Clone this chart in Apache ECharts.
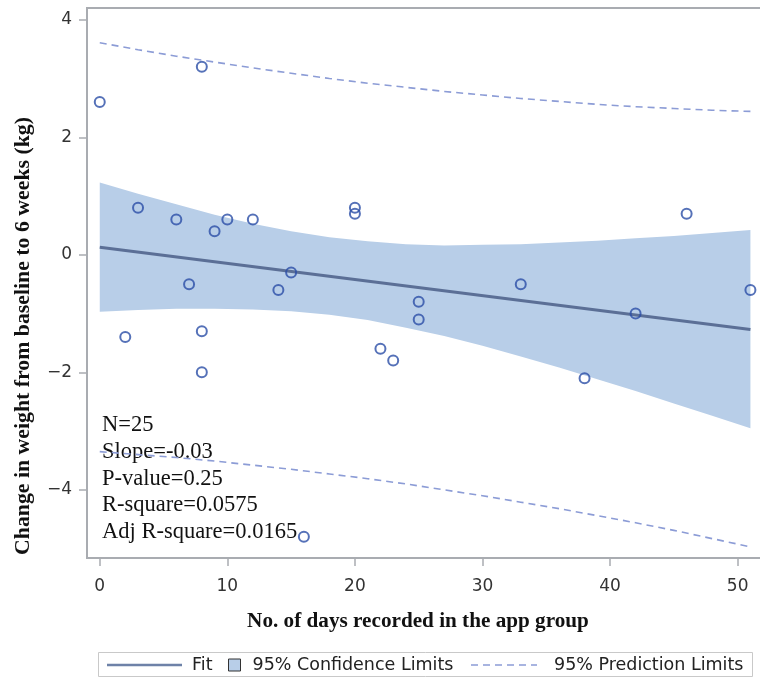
<!DOCTYPE html>
<html>
<head>
<meta charset="utf-8">
<script src="https://cdn.jsdelivr.net/npm/echarts@6/dist/echarts.min.js"></script>
<style>
html,body{margin:0;padding:0;background:#fff;}
#chart{width:760px;height:678px;}
</style>
</head>
<body>
<div id="chart"></div>
<script>
// Observed data: days recorded vs. change in weight (kg)
const days = [0, 8, 3, 6, 10, 12, 9, 20, 20, 46, 7, 14, 15, 25, 25, 33, 42, 51, 2, 8, 22, 23, 8, 38, 16];
const weightChange = [2.6, 3.2, 0.8, 0.6, 0.6, 0.6, 0.4, 0.8, 0.7, 0.7, -0.5, -0.6, -0.3, -0.8, -1.1, -0.5, -1.0, -0.6, -1.4, -1.3, -1.6, -1.8, -2.0, -2.1, -4.8];

// Fit line end points
const fitX = [0, 51];
const fitY = [0.13, -1.27];

// Confidence / prediction limits read along x
const bandX   = [0, 3, 6, 9, 12, 15, 18, 21, 24, 27, 30, 33, 36, 39, 42, 45, 48, 51];
const ciLower = [-0.97, -0.94, -0.92, -0.92, -0.93, -0.96, -1.02, -1.11, -1.24, -1.38, -1.55, -1.73, -1.92, -2.12, -2.32, -2.53, -2.74, -2.95];
const ciUpper = [1.23, 1.04, 0.86, 0.68, 0.53, 0.40, 0.30, 0.23, 0.18, 0.16, 0.17, 0.18, 0.21, 0.24, 0.28, 0.32, 0.37, 0.42];
const piLower = [-3.35, -3.40, -3.45, -3.51, -3.58, -3.65, -3.73, -3.81, -3.90, -4.00, -4.10, -4.21, -4.32, -4.44, -4.56, -4.69, -4.83, -4.97];
const piUpper = [3.61, 3.49, 3.38, 3.28, 3.18, 3.09, 3.00, 2.92, 2.85, 2.78, 2.72, 2.66, 2.61, 2.56, 2.52, 2.49, 2.46, 2.44];

const xTicks = [0, 10, 20, 30, 40, 50];
const yTicks = [-4, -2, 0, 2, 4];

const statsLines = ['N=25', 'Slope=-0.03', 'P-value=0.25', 'R-square=0.0575', 'Adj R-square=0.0165'];

const axisGray = '#a9acb1';
const bandColor = '#b8cee8';
const fitColor = '#5b6f96';
const markerColor = '#2a4ea6';
const piColor = '#8c9cd6';
const tickFont = {fontFamily: 'DejaVu Sans', fontSize: 17, color: '#333'};
const legendFont = {fontFamily: 'DejaVu Sans', fontSize: 17.5, color: '#222'};
const minus = v => String(v).replace('-', '\u2212');

const chart = echarts.init(document.getElementById('chart'));
const option = {
  animation: false,
  backgroundColor: '#fff',
  grid: {left: 87, top: 8, width: 680, height: 550, show: true, borderColor: axisGray, borderWidth: 2,
         containLabel: false, outerBoundsMode: 'none'},
  xAxis: {
    type: 'value', min: -1, max: 52.3,
    axisLine: {show: true, onZero: false, lineStyle: {color: axisGray, width: 2}},
    axisTick: {show: true, customValues: xTicks, length: 8, lineStyle: {color: axisGray, width: 1.5}},
    axisLabel: {customValues: xTicks, margin: 20, formatter: minus, ...tickFont},
    splitLine: {show: false}
  },
  yAxis: {
    type: 'value', min: -5.16, max: 4.2,
    axisLine: {show: true, onZero: false, lineStyle: {color: axisGray, width: 2}},
    axisTick: {show: true, customValues: yTicks, length: 8, lineStyle: {color: axisGray, width: 1.5}},
    axisLabel: {customValues: yTicks, margin: 15, formatter: minus, ...tickFont},
    splitLine: {show: false}
  },
  legend: [
    {left: 107, top: 656, padding: 0, itemWidth: 75, itemHeight: 2.5, symbolKeepAspect: false,
     icon: 'path://M0,0H75V2.5H0Z',
     itemStyle: {color: '#6e82a8', borderWidth: 0},
     data: ['Fit'],
     textStyle: {...legendFont, padding: [0, 0, 0, 5]}, selectedMode: false},
    {left: 228, top: 656, padding: 0, itemWidth: 12, itemHeight: 12, icon: 'rect',
     itemStyle: {color: bandColor, borderColor: '#333', borderWidth: 1},
     data: ['95% Confidence Limits'],
     textStyle: {...legendFont, padding: [0, 0, 0, 7]}, selectedMode: false},
    {left: 471, top: 656, padding: 0, itemWidth: 66, itemHeight: 1.6, symbolKeepAspect: false,
     icon: 'path://M0,0h7v1.6h-7zM12,0h7v1.6h-7zM24,0h7v1.6h-7zM36,0h7v1.6h-7zM48,0h7v1.6h-7zM60,0h6v1.6h-6z',
     itemStyle: {color: piColor, borderWidth: 0},
     data: ['95% Prediction Limits'],
     textStyle: {...legendFont, padding: [0, 0, 0, 12]}, selectedMode: false}
  ],
  graphic: [
    {type: 'rect', silent: true, shape: {x: 98.5, y: 652.5, width: 654, height: 24},
     style: {fill: 'none', stroke: '#c9c9c9', lineWidth: 1}},
    {type: 'text', silent: true, x: 102, y: 412,
     style: {text: statsLines.join('\n'), font: '22.5px "Liberation Serif"', lineHeight: 26.7, fill: '#111', verticalAlign: 'top'}},
    {type: 'text', silent: true, x: 418, y: 622,
     style: {text: 'No. of days recorded in the app group', font: 'bold 21.2px "Liberation Serif"', fill: '#111', align: 'center', verticalAlign: 'middle'}},
    {type: 'text', silent: true, x: 23, y: 336, rotation: Math.PI / 2,
     style: {text: 'Change in weight from baseline to 6 weeks (kg)', font: 'bold 21.8px "Liberation Serif"', fill: '#111', align: 'center', verticalAlign: 'middle'}}
  ],
  series: [
    {
      type: 'custom', name: '95% Confidence Limits', z: 1, silent: true,
      itemStyle: {color: bandColor},
      data: [[0, 0]],
      renderItem: function (params, api) {
        const pts = [];
        for (let i = 0; i < bandX.length; i++) pts.push(api.coord([bandX[i], ciUpper[i]]));
        for (let i = bandX.length - 1; i >= 0; i--) pts.push(api.coord([bandX[i], ciLower[i]]));
        return {type: 'polygon', shape: {points: pts}, style: {fill: bandColor}};
      }
    },
    {
      type: 'line', name: '95% Prediction Limits', z: 2, symbol: 'none', silent: true,
      data: bandX.map((x, i) => [x, piUpper[i]]),
      lineStyle: {color: piColor, width: 1.6, type: [7, 5]}, itemStyle: {color: piColor}
    },
    {
      type: 'line', name: '95% Prediction Limits', z: 2, symbol: 'none', silent: true,
      data: bandX.map((x, i) => [x, piLower[i]]),
      lineStyle: {color: piColor, width: 1.6, type: [7, 5]}, itemStyle: {color: piColor}
    },
    {
      type: 'line', name: 'Fit', z: 3, symbol: 'none', silent: true,
      data: fitX.map((x, i) => [x, fitY[i]]),
      lineStyle: {color: fitColor, width: 3}, itemStyle: {color: fitColor}
    },
    {
      type: 'scatter', name: 'Observed', z: 4, symbol: 'circle', symbolSize: 10,
      data: days.map((d, i) => [d, weightChange[i]]),
      itemStyle: {color: 'rgba(0,0,0,0)', borderColor: markerColor, borderWidth: 2}
    }
  ]
};
chart.setOption(option);
</script>
</body>
</html>
